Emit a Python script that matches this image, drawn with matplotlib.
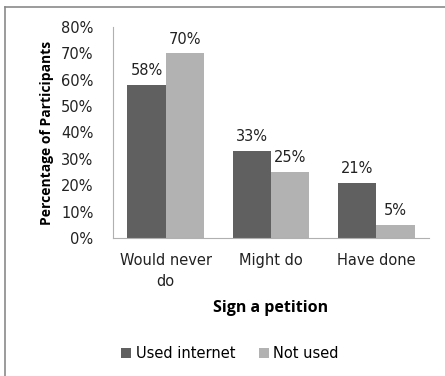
import numpy as np
import matplotlib.pyplot as plt
from matplotlib.lines import Line2D
from matplotlib.ticker import PercentFormatter

categories = ['Would never\ndo', 'Might do', 'Have done']
used_internet = [58, 33, 21]
not_used = [70, 25, 5]
series_names = ['Used internet', 'Not used']
colors = ['#606060', '#b2b2b2']

plt.rcParams['font.family'] = ['DejaVu Sans']

fig = plt.figure(figsize=(4.45, 3.76), dpi=100)
ax = fig.add_axes([113 / 445, 1 - 238 / 376, 316 / 445, 211 / 376])

x = np.arange(len(categories))
w = 0.365
fs = 10.5

bars1 = ax.bar(x - w / 2, used_internet, w, color=colors[0], label=series_names[0])
bars2 = ax.bar(x + w / 2, not_used, w, color=colors[1], label=series_names[1])

for bars, vals in ((bars1, used_internet), (bars2, not_used)):
  for b, v in zip(bars, vals):
    ax.text(b.get_x() + b.get_width() / 2, v + 2.5, f'{v}%', ha='center', va='bottom',
      fontsize=fs, color='#222222')

# Axis formatting
ax.set_xlim(-0.5, 2.5)
ax.set_ylim(0, 80)
ax.set_yticks(np.arange(0, 81, 10))
ax.yaxis.set_major_formatter(PercentFormatter(decimals=0))
ax.set_xticks(x)
ax.set_xticklabels(categories, fontsize=fs, linespacing=1.45)
ax.tick_params(axis='y', labelsize=fs, length=0, pad=14, labelcolor='#222222')
ax.tick_params(axis='x', length=0, pad=11, labelcolor='#222222')
for s in ['top', 'right']:
  ax.spines[s].set_visible(False)
ax.spines['left'].set_color('#b0b0b0')
ax.spines['bottom'].set_color('#b0b0b0')

ax.set_ylabel('Percentage of Participants', fontsize=10, fontweight='bold',
  family='Open Sans', labelpad=5)
ax.set_xlabel('Sign a petition', fontsize=11.5, fontweight='bold',
  family='Open Sans', labelpad=8)

ax.legend(loc='upper center', bbox_to_anchor=(0.37, -0.45), ncol=2, frameon=False,
  fontsize=fs, handlelength=0.7, handleheight=0.7, handletextpad=0.3, columnspacing=1.6)

# Outer frame: only top and left edges
fig.add_artist(Line2D([5 / 445, 1], [1 - 7 / 376, 1 - 7 / 376], color='#8a8a8a', lw=1.2))
fig.add_artist(Line2D([5 / 445, 5 / 445], [0, 1 - 7 / 376], color='#8a8a8a', lw=1.2))

fig.savefig('out.png', dpi=100)
